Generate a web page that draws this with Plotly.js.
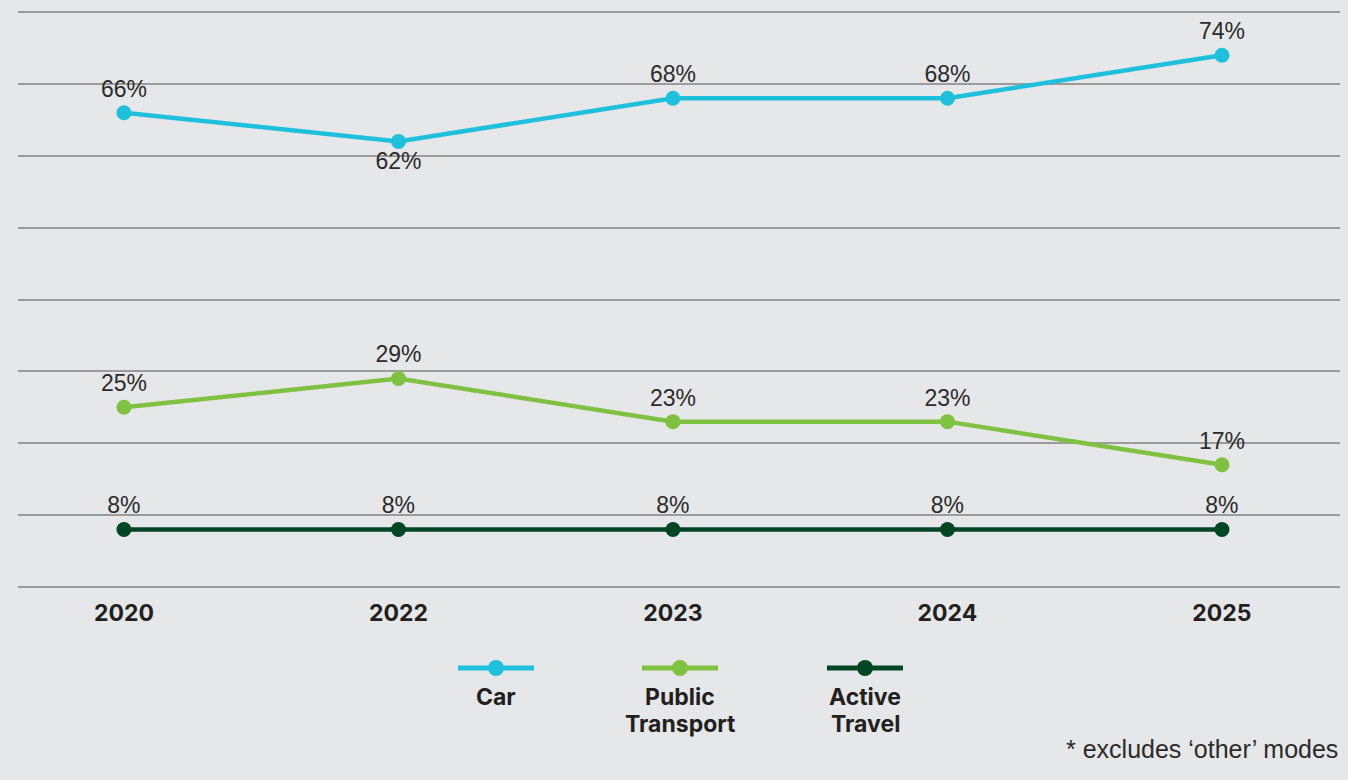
<!DOCTYPE html>
<html>
<head>
<meta charset="utf-8">
<script src="https://cdn.plot.ly/plotly-3.0.1.min.js"></script>
<style>
html,body{margin:0;padding:0;background:#e6e7e9;}
#chart{width:1348px;height:780px;}
</style>
</head>
<body>
<div id="chart"></div>
<script>
const years = ["2020", "2022", "2023", "2024", "2025"];
const carValues = [66, 62, 68, 68, 74];
const publicTransportValues = [25, 29, 23, 23, 17];
const activeTravelValues = [8, 8, 8, 8, 8];
const carLabelPos = ["top center", "bottom center", "top center", "top center", "top center"];
const seriesNames = [["Car"], ["Public", "Transport"], ["Active", "Travel"]];
const seriesColors = ["#1fc0dc", "#7fc241", "#004526"];
const footnote = "* excludes ‘other’ modes";

const labelFont = {family: "Liberation Sans, Arial, sans-serif", size: 23, color: "#2b2b2b"};
const boldFont = {family: "Inter, Roboto, sans-serif", size: 23, color: "#231f20", weight: 700};

function series(vals, color, pos) {
  return {
    x: years, y: vals, type: "scatter", mode: "lines+markers+text",
    line: {color: color, width: 4.5},
    marker: {color: color, size: 15},
    text: vals.map(v => v + "%"),
    textposition: pos,
    textfont: labelFont,
    cliponaxis: false,
    hoverinfo: "skip",
    showlegend: false
  };
}

const traces = [
  series(carValues, seriesColors[0], carLabelPos),
  series(publicTransportValues, seriesColors[1], "top center"),
  series(activeTravelValues, seriesColors[2], "top center")
];

// custom legend (paper coordinates)
const W = 1322, H = 577, L = 18, T = 11;
const px = x => (x - L) / W;
const py = y => (T + H - y) / H;
const legendCenters = [496, 680, 865];
const shapes = [];
const annotations = [];
legendCenters.forEach((cx, i) => {
  shapes.push({type: "line", xref: "paper", yref: "paper",
    x0: px(cx - 38), x1: px(cx + 38), y0: py(668), y1: py(668),
    line: {color: seriesColors[i], width: 5}});
  shapes.push({type: "circle", xref: "paper", yref: "paper",
    x0: px(cx - 8), x1: px(cx + 8), y0: py(660), y1: py(676),
    fillcolor: seriesColors[i], line: {width: 0}});
  seriesNames[i].forEach((line, j) => {
    annotations.push({xref: "paper", yref: "paper", x: px(cx), y: py(697 + 27 * j),
      xanchor: "center", yanchor: "middle", showarrow: false,
      text: "<b>" + line + "</b>", font: boldFont});
  });
});
annotations.push({xref: "paper", yref: "paper", x: 1, y: py(749),
  xanchor: "right", yanchor: "middle", showarrow: false,
  text: footnote, font: {family: "Liberation Sans, Arial, sans-serif", size: 25, color: "#2b2b2b"}});

const layout = {
  width: 1348, height: 780,
  margin: {l: 18, r: 8, t: 11, b: 192},
  paper_bgcolor: "#e6e7e9",
  plot_bgcolor: "#e6e7e9",
  xaxis: {
    type: "category",
    range: [-0.386, 4.43],
    showgrid: false, zeroline: false, showline: false,
    ticks: "", tickfont: boldFont,
    ticklabelstandoff: 9,
    fixedrange: true
  },
  yaxis: {
    range: [-0.15, 80.15], tick0: 0, dtick: 10,
    showgrid: true, gridcolor: "#9b9b9b", gridwidth: 2,
    zeroline: false, showticklabels: false, ticks: "",
    fixedrange: true
  },
  shapes: shapes,
  annotations: annotations
};

Plotly.newPlot("chart", traces, layout, {displayModeBar: false, staticPlot: true});
</script>
</body>
</html>
